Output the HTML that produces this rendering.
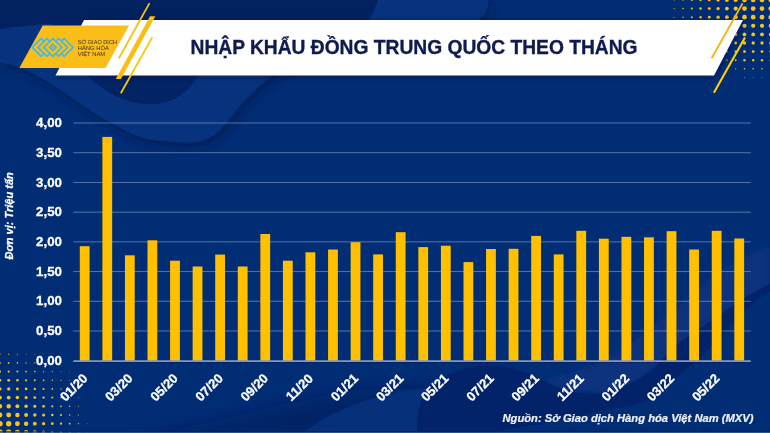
<!DOCTYPE html>
<html><head><meta charset="utf-8"><style>
html,body{margin:0;padding:0;background:#052c74;}
svg{display:block;will-change:transform;}
</style></head><body>
<svg width="770" height="433" viewBox="0 0 770 433">

<defs><filter id="blur4" x="-20%" y="-20%" width="140%" height="140%"><feGaussianBlur stdDeviation="5"/></filter><filter id="blur8" x="-30%" y="-60%" width="160%" height="220%"><feGaussianBlur stdDeviation="8"/></filter><filter id="blur3" x="-20%" y="-20%" width="140%" height="140%"><feGaussianBlur stdDeviation="3"/></filter></defs><rect width="770" height="433" fill="#012d75"/>
<path d="M489,0 C487.2,3.3 489.5,12.5 478,20 C466.5,27.5 449.7,38.0 420,45 C390.3,52.0 325.8,55.8 300,62 C274.2,68.2 274.8,74.8 265,82 C255.2,89.2 248.8,96.7 241,105 C233.2,113.3 225.7,125.8 218,132 C210.3,138.2 204.0,140.5 195,142 C186.0,143.5 173.2,141.8 164,141 C154.8,140.2 147.8,139.5 140,137 C132.2,134.5 125.0,130.2 117,126 C109.0,121.8 100.0,117.0 92,112 C84.0,107.0 76.7,101.2 69,96 C61.3,90.8 53.7,85.5 46,81 C38.3,76.5 30.7,72.2 23,69 C15.3,65.8 3.8,63.2 0,62 L0,0 Z" fill="#001a50" fill-opacity="0.7" filter="url(#blur4)" transform="translate(3,5)"/>
<path d="M489,0 C487.2,3.3 489.5,12.5 478,20 C466.5,27.5 449.7,38.0 420,45 C390.3,52.0 325.8,55.8 300,62 C274.2,68.2 274.8,74.8 265,82 C255.2,89.2 248.8,96.7 241,105 C233.2,113.3 225.7,125.8 218,132 C210.3,138.2 204.0,140.5 195,142 C186.0,143.5 173.2,141.8 164,141 C154.8,140.2 147.8,139.5 140,137 C132.2,134.5 125.0,130.2 117,126 C109.0,121.8 100.0,117.0 92,112 C84.0,107.0 76.7,101.2 69,96 C61.3,90.8 53.7,85.5 46,81 C38.3,76.5 30.7,72.2 23,69 C15.3,65.8 3.8,63.2 0,62 L0,0 Z" fill="#07337e"/>
<path d="M0,0 L378,0 C375,8 372,15 368,22 L100,22 C60,22 30,25 0,29 Z" fill="#02215f"/>
<path d="M50,20 C62,50 95,100 145,104 C180,106 196,85 205,60 L205,20 Z" fill="#022465"/>
<path d="M120,440 C200,428 290,400 345,392 C380,388 410,387 430,388 L430,440 Z" fill="#001a55" fill-opacity="0.45" filter="url(#blur8)"/>
<path d="M303,433 C330,412 370,393 430,388 C425,400 418,415 417,433 Z" fill="#06307a"/>
<path d="M540,380 C550.0,377.0 580.0,372.0 600,362 C620.0,352.0 640.0,335.0 660,320 C680.0,305.0 701.7,284.5 720,272 C738.3,259.5 761.7,249.5 770,245 L770,284 L742,300 L713,320 L678,344 L656,366 L637,380 L604,393 L565,390 Z" fill="#07327e" filter="url(#blur3)"/>
<path d="M417,433 C417.5,428.3 416.7,413.7 420,405 C423.3,396.3 429.0,387.2 437,381 C445.0,374.8 458.3,370.5 468,368 C477.7,365.5 485.3,365.2 495,366 C504.7,366.8 514.3,369.0 526,373 C537.7,377.0 552.0,386.7 565,390 C578.0,393.3 592.0,394.7 604,393 C616.0,391.3 628.3,384.5 637,380 C645.7,375.5 649.2,372.0 656,366 C662.8,360.0 668.5,351.7 678,344 C687.5,336.3 702.3,327.3 713,320 C723.7,312.7 732.5,306.0 742,300 C751.5,294.0 765.3,286.7 770,284 L770,292 C767.2,293.8 760.8,296.0 753,303 C745.2,310.0 731.8,324.8 723,334 C714.2,343.2 706.5,351.8 700,358 C693.5,364.2 689.8,366.0 684,371 C678.2,376.0 672.2,382.7 665,388 C657.8,393.3 651.8,399.2 641,403 C630.2,406.8 613.5,408.2 600,411 C586.5,413.8 578.3,416.3 560,420 C541.7,423.7 501.7,430.8 490,433 Z" fill="#02236a"/>
<g fill="#f7c21a"><circle cx="770.8" cy="0.0" r="2.35"/><circle cx="762.0" cy="0.0" r="2.35"/><circle cx="753.2" cy="0.0" r="2.35"/><circle cx="744.5" cy="0.0" r="2.35"/><circle cx="735.7" cy="0.0" r="2.12"/><circle cx="726.9" cy="0.0" r="1.90"/><circle cx="718.1" cy="0.0" r="1.68"/><circle cx="709.3" cy="0.0" r="1.45"/><circle cx="700.6" cy="0.0" r="1.23"/><circle cx="691.8" cy="0.0" r="1.00"/><circle cx="683.0" cy="0.0" r="0.78"/><circle cx="674.2" cy="0.0" r="0.55"/><circle cx="770.8" cy="8.6" r="2.35"/><circle cx="762.0" cy="8.6" r="2.35"/><circle cx="753.2" cy="8.6" r="2.35"/><circle cx="744.5" cy="8.6" r="2.35"/><circle cx="735.7" cy="8.6" r="2.12"/><circle cx="726.9" cy="8.6" r="1.90"/><circle cx="718.1" cy="8.6" r="1.68"/><circle cx="709.3" cy="8.6" r="1.45"/><circle cx="700.6" cy="8.6" r="1.23"/><circle cx="691.8" cy="8.6" r="1.00"/><circle cx="683.0" cy="8.6" r="0.78"/><circle cx="674.2" cy="8.6" r="0.55"/><circle cx="770.8" cy="17.2" r="2.35"/><circle cx="762.0" cy="17.2" r="2.35"/><circle cx="753.2" cy="17.2" r="2.35"/><circle cx="744.5" cy="17.2" r="2.35"/><circle cx="735.7" cy="17.2" r="2.12"/><circle cx="726.9" cy="17.2" r="1.90"/><circle cx="718.1" cy="17.2" r="1.68"/><circle cx="709.3" cy="17.2" r="1.45"/><circle cx="700.6" cy="17.2" r="1.23"/><circle cx="691.8" cy="17.2" r="1.00"/><circle cx="683.0" cy="17.2" r="0.78"/><circle cx="674.2" cy="17.2" r="0.55"/><circle cx="770.8" cy="25.8" r="2.12"/><circle cx="762.0" cy="25.8" r="2.12"/><circle cx="753.2" cy="25.8" r="2.12"/><circle cx="744.5" cy="25.8" r="2.12"/><circle cx="735.7" cy="25.8" r="1.89"/><circle cx="726.9" cy="25.8" r="1.67"/><circle cx="718.1" cy="25.8" r="1.44"/><circle cx="709.3" cy="25.8" r="1.22"/><circle cx="700.6" cy="25.8" r="0.99"/><circle cx="691.8" cy="25.8" r="0.77"/><circle cx="683.0" cy="25.8" r="0.54"/><circle cx="770.8" cy="34.4" r="1.88"/><circle cx="762.0" cy="34.4" r="1.88"/><circle cx="753.2" cy="34.4" r="1.88"/><circle cx="744.5" cy="34.4" r="1.88"/><circle cx="735.7" cy="34.4" r="1.66"/><circle cx="726.9" cy="34.4" r="1.43"/><circle cx="718.1" cy="34.4" r="1.21"/><circle cx="709.3" cy="34.4" r="0.98"/><circle cx="700.6" cy="34.4" r="0.76"/><circle cx="691.8" cy="34.4" r="0.53"/><circle cx="770.8" cy="43.0" r="1.65"/><circle cx="762.0" cy="43.0" r="1.65"/><circle cx="753.2" cy="43.0" r="1.65"/><circle cx="744.5" cy="43.0" r="1.65"/><circle cx="735.7" cy="43.0" r="1.42"/><circle cx="726.9" cy="43.0" r="1.20"/><circle cx="718.1" cy="43.0" r="0.97"/><circle cx="709.3" cy="43.0" r="0.75"/><circle cx="700.6" cy="43.0" r="0.52"/><circle cx="770.8" cy="51.6" r="1.41"/><circle cx="762.0" cy="51.6" r="1.41"/><circle cx="753.2" cy="51.6" r="1.41"/><circle cx="744.5" cy="51.6" r="1.41"/><circle cx="735.7" cy="51.6" r="1.19"/><circle cx="726.9" cy="51.6" r="0.96"/><circle cx="718.1" cy="51.6" r="0.74"/><circle cx="709.3" cy="51.6" r="0.51"/><circle cx="770.8" cy="60.2" r="1.18"/><circle cx="762.0" cy="60.2" r="1.18"/><circle cx="753.2" cy="60.2" r="1.18"/><circle cx="744.5" cy="60.2" r="1.18"/><circle cx="735.7" cy="60.2" r="0.95"/><circle cx="726.9" cy="60.2" r="0.73"/><circle cx="718.1" cy="60.2" r="0.50"/><circle cx="770.8" cy="68.8" r="0.82"/><circle cx="762.0" cy="68.8" r="0.82"/><circle cx="753.2" cy="68.8" r="0.82"/><circle cx="744.5" cy="68.8" r="0.82"/><circle cx="735.7" cy="68.8" r="0.60"/><circle cx="726.9" cy="68.8" r="0.37"/><circle cx="770.8" cy="77.4" r="0.47"/><circle cx="762.0" cy="77.4" r="0.47"/><circle cx="753.2" cy="77.4" r="0.47"/><circle cx="744.5" cy="77.4" r="0.47"/></g><polygon points="84,20 743,20 714,75.5 55.5,75.5" fill="#001040" fill-opacity="0.6" filter="url(#blur3)" transform="translate(0,1.5)"/><polygon points="84,20 743,20 714,75.5 55.5,75.5" fill="#ffffff"/><polygon points="42.7,25.5 129,25.5 105.5,68 19.3,68" fill="#fbbd18"/><line x1="149.5" y1="3.1" x2="118.9" y2="58.2" stroke="#f9bf10" stroke-width="1.8"/><polygon points="150,16.2 155.3,16.2 121,79 115.8,79" fill="#f9bf10"/><line x1="152.2" y1="37.4" x2="120.8" y2="93.3" stroke="#f9c800" stroke-width="1.8"/><line x1="742.6" y1="3.2" x2="711.6" y2="58.4" stroke="#f5b400" stroke-width="1.8"/><line x1="745" y1="37.6" x2="713.9" y2="92.7" stroke="#ffd000" stroke-width="2.1"/><g fill="#f7c21a"><circle cx="0.0" cy="432.4" r="2.96"/><circle cx="8.7" cy="432.4" r="2.96"/><circle cx="17.4" cy="432.4" r="2.68"/><circle cx="26.1" cy="432.4" r="2.39"/><circle cx="34.8" cy="432.4" r="2.11"/><circle cx="43.6" cy="432.4" r="1.83"/><circle cx="52.3" cy="432.4" r="1.54"/><circle cx="61.0" cy="432.4" r="1.26"/><circle cx="69.7" cy="432.4" r="0.97"/><circle cx="78.4" cy="432.4" r="0.69"/><circle cx="87.1" cy="432.4" r="0.40"/><circle cx="0.0" cy="423.7" r="2.70"/><circle cx="8.7" cy="423.7" r="2.70"/><circle cx="17.4" cy="423.7" r="2.44"/><circle cx="26.1" cy="423.7" r="2.18"/><circle cx="34.8" cy="423.7" r="1.92"/><circle cx="43.6" cy="423.7" r="1.66"/><circle cx="52.3" cy="423.7" r="1.40"/><circle cx="61.0" cy="423.7" r="1.14"/><circle cx="69.7" cy="423.7" r="0.88"/><circle cx="78.4" cy="423.7" r="0.62"/><circle cx="87.1" cy="423.7" r="0.37"/><circle cx="0.0" cy="415.0" r="2.44"/><circle cx="8.7" cy="415.0" r="2.44"/><circle cx="17.4" cy="415.0" r="2.20"/><circle cx="26.1" cy="415.0" r="1.97"/><circle cx="34.8" cy="415.0" r="1.73"/><circle cx="43.6" cy="415.0" r="1.50"/><circle cx="52.3" cy="415.0" r="1.26"/><circle cx="61.0" cy="415.0" r="1.03"/><circle cx="69.7" cy="415.0" r="0.80"/><circle cx="78.4" cy="415.0" r="0.56"/><circle cx="0.0" cy="406.3" r="2.18"/><circle cx="8.7" cy="406.3" r="2.18"/><circle cx="17.4" cy="406.3" r="1.97"/><circle cx="26.1" cy="406.3" r="1.76"/><circle cx="34.8" cy="406.3" r="1.55"/><circle cx="43.6" cy="406.3" r="1.34"/><circle cx="52.3" cy="406.3" r="1.13"/><circle cx="61.0" cy="406.3" r="0.92"/><circle cx="69.7" cy="406.3" r="0.71"/><circle cx="78.4" cy="406.3" r="0.50"/><circle cx="0.0" cy="397.6" r="1.91"/><circle cx="8.7" cy="397.6" r="1.91"/><circle cx="17.4" cy="397.6" r="1.73"/><circle cx="26.1" cy="397.6" r="1.54"/><circle cx="34.8" cy="397.6" r="1.36"/><circle cx="43.6" cy="397.6" r="1.17"/><circle cx="52.3" cy="397.6" r="0.99"/><circle cx="61.0" cy="397.6" r="0.80"/><circle cx="69.7" cy="397.6" r="0.62"/><circle cx="78.4" cy="397.6" r="0.43"/><circle cx="0.0" cy="388.9" r="1.65"/><circle cx="8.7" cy="388.9" r="1.65"/><circle cx="17.4" cy="388.9" r="1.49"/><circle cx="26.1" cy="388.9" r="1.33"/><circle cx="34.8" cy="388.9" r="1.17"/><circle cx="43.6" cy="388.9" r="1.01"/><circle cx="52.3" cy="388.9" r="0.85"/><circle cx="61.0" cy="388.9" r="0.69"/><circle cx="69.7" cy="388.9" r="0.53"/><circle cx="78.4" cy="388.9" r="0.37"/><circle cx="0.0" cy="380.3" r="1.39"/><circle cx="8.7" cy="380.3" r="1.39"/><circle cx="17.4" cy="380.3" r="1.25"/><circle cx="26.1" cy="380.3" r="1.12"/><circle cx="34.8" cy="380.3" r="0.98"/><circle cx="43.6" cy="380.3" r="0.85"/><circle cx="52.3" cy="380.3" r="0.71"/><circle cx="61.0" cy="380.3" r="0.58"/><circle cx="69.7" cy="380.3" r="0.44"/><circle cx="0.0" cy="371.6" r="1.13"/><circle cx="8.7" cy="371.6" r="1.13"/><circle cx="17.4" cy="371.6" r="1.02"/><circle cx="26.1" cy="371.6" r="0.91"/><circle cx="34.8" cy="371.6" r="0.80"/><circle cx="43.6" cy="371.6" r="0.68"/><circle cx="52.3" cy="371.6" r="0.57"/><circle cx="61.0" cy="371.6" r="0.46"/><circle cx="69.7" cy="371.6" r="0.35"/><circle cx="0.0" cy="362.9" r="0.87"/><circle cx="8.7" cy="362.9" r="0.87"/><circle cx="17.4" cy="362.9" r="0.78"/><circle cx="26.1" cy="362.9" r="0.69"/><circle cx="34.8" cy="362.9" r="0.61"/><circle cx="43.6" cy="362.9" r="0.52"/><circle cx="52.3" cy="362.9" r="0.43"/><circle cx="0.0" cy="354.2" r="0.60"/><circle cx="8.7" cy="354.2" r="0.60"/><circle cx="17.4" cy="354.2" r="0.54"/><circle cx="26.1" cy="354.2" r="0.48"/><circle cx="34.8" cy="354.2" r="0.42"/><circle cx="43.6" cy="354.2" r="0.36"/></g><rect x="0" y="431" width="770" height="1" fill="#001e5c" fill-opacity="0.7"/><rect x="0" y="432" width="770" height="1" fill="#3a5a90" fill-opacity="0.8"/><g fill="none" stroke="#3cbaf2" stroke-width="1.65" stroke-linecap="butt" stroke-linejoin="miter">
<polyline points="44.1,41.3 41.2,38.5 32.3,47.4 41.2,56.3 44.1,53.5"/>
<polyline points="49.8,41.3 46.9,38.5 38.0,47.4 46.9,56.3 49.8,53.5"/>
<polyline points="61.4,41.3 64.2,38.5 73.1,47.4 64.2,56.3 61.4,53.5"/>
<polyline points="55.8,41.3 58.6,38.5 67.5,47.4 58.6,56.3 55.8,53.5"/>
<polygon points="43.8,47.4 52.8,38.5 61.9,47.4 52.8,56.3"/>
<polygon points="49.6,47.4 52.8,44.2 56.0,47.4 52.8,50.6"/>
</g><circle cx="52.8" cy="47.4" r="0.9" fill="#3cbaf2"/><g font-family="Liberation Sans" font-size="5.4" fill="#3b3121" lengthAdjust="spacingAndGlyphs"><text x="77.7" y="43.6" textLength="39.3" lengthAdjust="spacingAndGlyphs">SỞ GIAO DỊCH</text><text x="77.7" y="49.6" textLength="31.2" lengthAdjust="spacingAndGlyphs">HÀNG HÓA</text><text x="77.7" y="55.8" textLength="27.5" lengthAdjust="spacingAndGlyphs">VIỆT NAM</text></g><text x="190.5" y="54.2" font-family="Liberation Sans" font-weight="bold" font-size="19.8" fill="#0f1b50" stroke="#0f1b50" stroke-width="0.35" textLength="447" lengthAdjust="spacingAndGlyphs">NHẬP KHẨU ĐỒNG TRUNG QUỐC THEO THÁNG</text><rect x="73.3" y="122.50" width="677.5" height="1" fill="#ffffff" fill-opacity="0.34"/><rect x="73.3" y="152.21" width="677.5" height="1" fill="#ffffff" fill-opacity="0.34"/><rect x="73.3" y="181.93" width="677.5" height="1" fill="#ffffff" fill-opacity="0.34"/><rect x="73.3" y="211.64" width="677.5" height="1" fill="#ffffff" fill-opacity="0.34"/><rect x="73.3" y="241.35" width="677.5" height="1" fill="#ffffff" fill-opacity="0.34"/><rect x="73.3" y="271.06" width="677.5" height="1" fill="#ffffff" fill-opacity="0.34"/><rect x="73.3" y="300.77" width="677.5" height="1" fill="#ffffff" fill-opacity="0.34"/><rect x="73.3" y="330.49" width="677.5" height="1" fill="#ffffff" fill-opacity="0.34"/><g fill="#ffc000"><rect x="79.80" y="246.2" width="9.8" height="114.4"/><rect x="102.37" y="136.9" width="9.8" height="223.7"/><rect x="124.94" y="255.3" width="9.8" height="105.3"/><rect x="147.51" y="240.3" width="9.8" height="120.3"/><rect x="170.08" y="260.7" width="9.8" height="99.9"/><rect x="192.65" y="266.5" width="9.8" height="94.1"/><rect x="215.22" y="254.6" width="9.8" height="106.0"/><rect x="237.79" y="266.5" width="9.8" height="94.1"/><rect x="260.36" y="234.0" width="9.8" height="126.6"/><rect x="282.93" y="260.7" width="9.8" height="99.9"/><rect x="305.50" y="252.3" width="9.8" height="108.3"/><rect x="328.07" y="249.5" width="9.8" height="111.1"/><rect x="350.64" y="242.2" width="9.8" height="118.4"/><rect x="373.21" y="254.4" width="9.8" height="106.2"/><rect x="395.78" y="232.2" width="9.8" height="128.4"/><rect x="418.35" y="247.1" width="9.8" height="113.5"/><rect x="440.92" y="245.7" width="9.8" height="114.9"/><rect x="463.49" y="262.1" width="9.8" height="98.5"/><rect x="486.06" y="249.0" width="9.8" height="111.6"/><rect x="508.63" y="248.8" width="9.8" height="111.8"/><rect x="531.20" y="235.9" width="9.8" height="124.7"/><rect x="553.77" y="254.4" width="9.8" height="106.2"/><rect x="576.34" y="230.8" width="9.8" height="129.8"/><rect x="598.91" y="238.7" width="9.8" height="121.9"/><rect x="621.48" y="236.8" width="9.8" height="123.8"/><rect x="644.05" y="237.3" width="9.8" height="123.3"/><rect x="666.62" y="231.2" width="9.8" height="129.4"/><rect x="689.19" y="249.5" width="9.8" height="111.1"/><rect x="711.76" y="230.8" width="9.8" height="129.8"/><rect x="734.33" y="238.5" width="9.8" height="122.1"/></g><rect x="73.3" y="360.4" width="677.5" height="1.5" fill="#a2b1d0"/><rect x="73.3" y="361.9" width="677.5" height="1" fill="#001a5e" fill-opacity="0.6"/><g font-family="Liberation Sans" font-weight="bold" font-size="13.3" fill="#ffffff" stroke="#ffffff" stroke-width="0.3" text-anchor="end"><text x="62" y="127.1">4,00</text><text x="62" y="156.8">3,50</text><text x="62" y="186.5">3,00</text><text x="62" y="216.2">2,50</text><text x="62" y="245.9">2,00</text><text x="62" y="275.7">1,50</text><text x="62" y="305.4">1,00</text><text x="62" y="335.1">0,50</text><text x="62" y="364.8">0,00</text></g><g font-family="Liberation Sans" font-weight="bold" font-size="13" fill="#ffffff" stroke="#ffffff" stroke-width="0.3" text-anchor="middle"><text transform="translate(73.7,387.4) rotate(-45)" y="4.5">01/20</text><text transform="translate(118.8,387.4) rotate(-45)" y="4.5">03/20</text><text transform="translate(164.0,387.4) rotate(-45)" y="4.5">05/20</text><text transform="translate(209.1,387.4) rotate(-45)" y="4.5">07/20</text><text transform="translate(254.3,387.4) rotate(-45)" y="4.5">09/20</text><text transform="translate(299.4,387.4) rotate(-45)" y="4.5">11/20</text><text transform="translate(344.5,387.4) rotate(-45)" y="4.5">01/21</text><text transform="translate(389.7,387.4) rotate(-45)" y="4.5">03/21</text><text transform="translate(434.8,387.4) rotate(-45)" y="4.5">05/21</text><text transform="translate(480.0,387.4) rotate(-45)" y="4.5">07/21</text><text transform="translate(525.1,387.4) rotate(-45)" y="4.5">09/21</text><text transform="translate(570.2,387.4) rotate(-45)" y="4.5">11/21</text><text transform="translate(615.4,387.4) rotate(-45)" y="4.5">01/22</text><text transform="translate(660.5,387.4) rotate(-45)" y="4.5">03/22</text><text transform="translate(705.7,387.4) rotate(-45)" y="4.5">05/22</text></g><text transform="translate(13.3,259.5) rotate(-90)" font-family="Liberation Sans" font-weight="bold" font-style="italic" font-size="11" fill="#ffffff" stroke="#ffffff" stroke-width="0.25">Đơn vị: Triệu tấn</text><text x="502.5" y="421.9" font-family="Liberation Sans" font-weight="bold" font-style="italic" font-size="11" fill="#f0f2f8" stroke="#f0f2f8" stroke-width="0.2" textLength="251" lengthAdjust="spacingAndGlyphs">Nguồn: Sở Giao dịch Hàng hóa Việt Nam (MXV)</text>
</svg>
</body></html>
